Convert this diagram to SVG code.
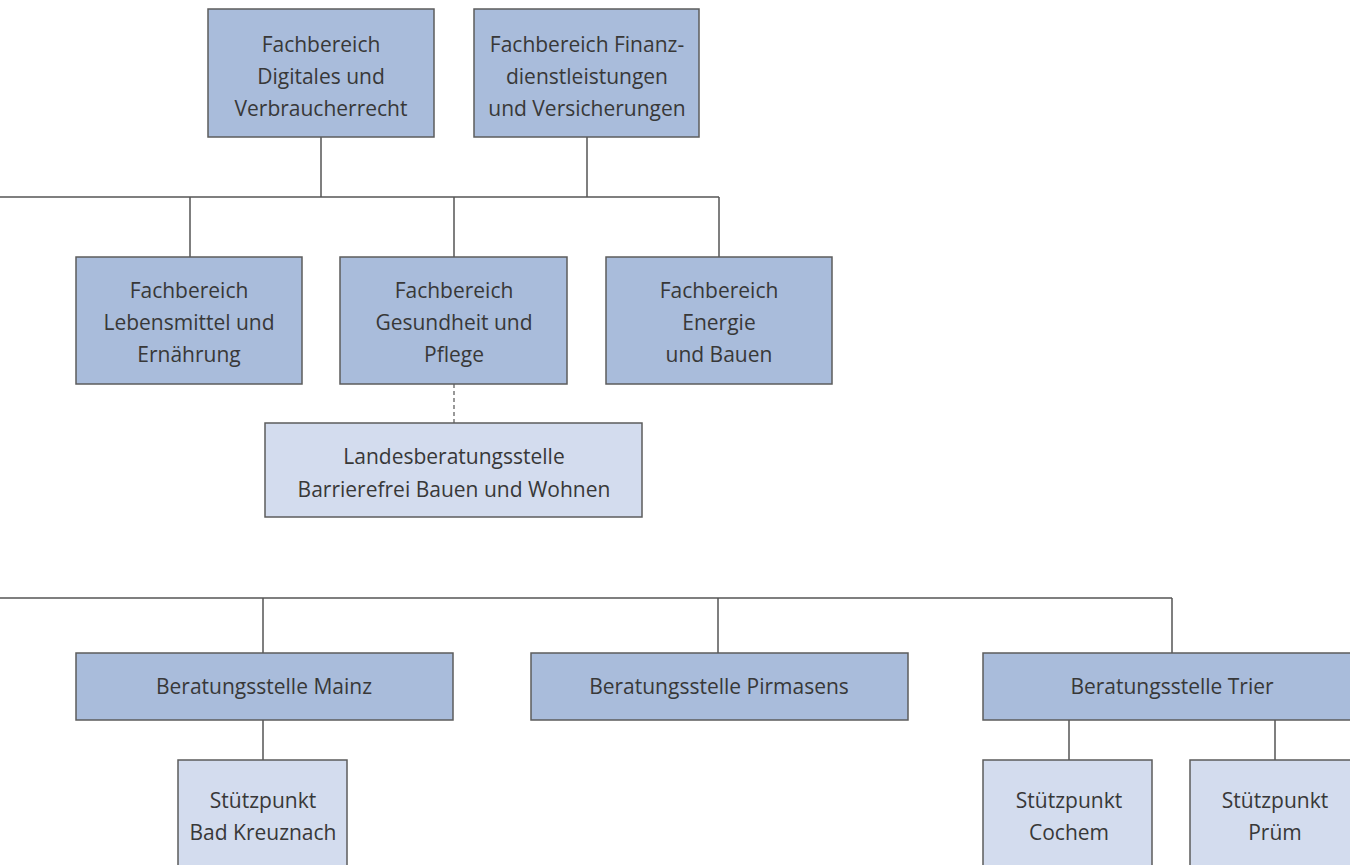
<svg xmlns="http://www.w3.org/2000/svg" width="1350" height="865" viewBox="0 0 1350 865">
<style>
.dk{fill:#a9bcdb;stroke:#5c5c5c;stroke-width:1.5}
.lt{fill:#d3dcee;stroke:#5c5c5c;stroke-width:1.5}
.ln{fill:none;stroke:#555;stroke-width:1.5}
.ds{fill:none;stroke:#555;stroke-width:1.2;stroke-dasharray:4 3}
text{font-family:"Open Sans","Liberation Sans",sans-serif;font-size:21px;fill:#383838;text-anchor:middle}
</style>
<rect width="1350" height="865" fill="#fff"/>
<g id="connectors">
<path class="ln" d="M321 137V197M587 137V197M0 197H719M190 197V257M454 197V257M719 197V257"/>
<path class="ds" d="M454 384V423"/>
<path class="ln" d="M0 598H1172M263 598V653M718 598V653M1172 598V653"/>
<path class="ln" d="M263 720V760M1069 720V760M1275 720V760"/>
</g>
<g id="fb-digitales"><rect class="dk" x="208" y="9" width="226" height="128"/>
<text x="321" y="52">Fachbereich</text><text x="321" y="84">Digitales und</text><text x="321" y="116">Verbraucherrecht</text></g>
<g id="fb-finanz"><rect class="dk" x="474" y="9" width="225" height="128"/>
<text x="587" y="52">Fachbereich Finanz-</text><text x="587" y="84">dienstleistungen</text><text x="587" y="116">und Versicherungen</text></g>
<g id="fb-lebensmittel"><rect class="dk" x="76" y="257" width="226" height="127"/>
<text x="189" y="298">Fachbereich</text><text x="189" y="330">Lebensmittel und</text><text x="189" y="362">Ernährung</text></g>
<g id="fb-gesundheit"><rect class="dk" x="340" y="257" width="227" height="127"/>
<text x="454" y="298">Fachbereich</text><text x="454" y="330">Gesundheit und</text><text x="454" y="362">Pflege</text></g>
<g id="fb-energie"><rect class="dk" x="606" y="257" width="226" height="127"/>
<text x="719" y="298">Fachbereich</text><text x="719" y="330">Energie</text><text x="719" y="362">und Bauen</text></g>
<g id="landesberatung"><rect class="lt" x="265" y="423" width="377" height="94"/>
<text x="454" y="464">Landesberatungsstelle</text><text x="454" y="497">Barrierefrei Bauen und Wohnen</text></g>
<g id="bs-mainz"><rect class="dk" x="76" y="653" width="377" height="67"/>
<text x="264" y="694">Beratungsstelle Mainz</text></g>
<g id="bs-pirmasens"><rect class="dk" x="531" y="653" width="377" height="67"/>
<text x="719" y="694">Beratungsstelle Pirmasens</text></g>
<g id="bs-trier"><rect class="dk" x="983" y="653" width="378" height="67"/>
<text x="1172" y="694">Beratungsstelle Trier</text></g>
<g id="sp-badkreuznach"><rect class="lt" x="178" y="760" width="169" height="120"/>
<text x="263" y="808">Stützpunkt</text><text x="263" y="840">Bad Kreuznach</text></g>
<g id="sp-cochem"><rect class="lt" x="983" y="760" width="169" height="120"/>
<text x="1069" y="808">Stützpunkt</text><text x="1069" y="840">Cochem</text></g>
<g id="sp-pruem"><rect class="lt" x="1190" y="760" width="170" height="120"/>
<text x="1275" y="808">Stützpunkt</text><text x="1275" y="840">Prüm</text></g>
</svg>
